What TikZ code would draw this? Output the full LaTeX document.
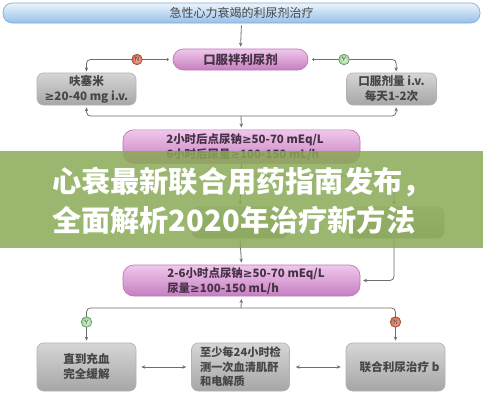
\documentclass[tikz,border=0pt]{standalone}
\usepackage{fontspec}
\newfontfamily\cjk{Noto Sans CJK SC}
\newfontfamily\djv{DejaVu Sans}
\newcommand\gesign{{\djv ≥}}
\usetikzlibrary{arrows.meta,calc}
\definecolor{tbtop}{RGB}{236,244,252}
\definecolor{tbbot}{RGB}{150,192,232}
\definecolor{tbline}{RGB}{130,172,214}
\definecolor{pktop}{RGB}{240,200,236}
\definecolor{pkbot}{RGB}{198,126,192}
\definecolor{pkline}{RGB}{186,120,178}
\definecolor{gytop}{RGB}{214,214,214}
\definecolor{gybot}{RGB}{166,166,166}
\definecolor{gyline}{RGB}{178,178,178}
\definecolor{txtgray}{RGB}{70,70,70}
\definecolor{pktext}{RGB}{70,50,70}
\definecolor{lncol}{RGB}{110,110,110}
\definecolor{nin}{RGB}{248,196,176}
\definecolor{nout}{RGB}{204,92,64}
\definecolor{yin}{RGB}{236,250,236}
\definecolor{yout}{RGB}{140,206,140}
\definecolor{banner}{RGB}{137,170,84}
\begin{document}
\begin{tikzpicture}[x=0.75pt,y=-0.75pt,
  titlebar/.style={draw=tbline, line width=0.5pt, top color=tbtop, bottom color=tbbot,
    rounded corners=7pt, minimum width=357.75pt, minimum height=15pt, inner sep=0pt,
    font=\cjk\fontsize{9}{11}\selectfont, text=txtgray},
  pinkbox/.style={draw=pkline, line width=0.5pt, top color=pktop, bottom color=pkbot,
    inner sep=0pt, text=pktext, align=left,
    font=\cjk\bfseries\fontsize{9}{11.2}\selectfont},
  pinktext/.style={inner sep=0pt, text=pktext, align=left, anchor=west,
    font=\cjk\bfseries\fontsize{8.6}{11.25}\selectfont},
  graybox/.style={draw=gyline, line width=0.5pt, top color=gytop, bottom color=gybot,
    rounded corners=5pt, inner sep=0pt, text=txtgray, align=center,
    font=\cjk\bfseries\fontsize{8.7}{11.2}\selectfont},
  conn/.style={draw=lncol, line width=0.6pt, rounded corners=3pt},
  tip/.style={-{Stealth[length=3pt,width=2.6pt]}},
  dtip/.style={{Stealth[length=3pt,width=2.6pt]}-{Stealth[length=3pt,width=2.6pt]}},
  ncirc/.style={circle, draw=nout!80!black, line width=0.4pt, inner color=nin, outer color=nout,
    minimum size=8pt, inner sep=0pt, text=black!80, font=\sffamily\fontsize{4.5}{5}\selectfont},
  ycirc/.style={circle, draw=yout!70!black, line width=0.4pt, inner color=yin, outer color=yout,
    minimum size=8pt, inner sep=0pt, text=black!80, font=\sffamily\fontsize{4.5}{5}\selectfont}
]
\useasboundingbox (0,0) rectangle (483,400);
\fill[white] (0,0) rectangle (483,400);

% nodes
\node[titlebar] (title) at (241.5,13) {急性心力衰竭的利尿剂治疗};
\node[pinkbox, rounded corners=7.8pt, minimum width=101.25pt, minimum height=15.75pt,
  font=\cjk\bfseries\fontsize{9.3}{11}\selectfont] (p1) at (240.5,59.5) {口服袢利尿剂};
\node[graybox, minimum width=74.25pt, minimum height=24pt] (l1) at (86.5,89) {呋塞米\\\gesign20-40 mg i.v.};
\node[graybox, minimum width=67.5pt, minimum height=24pt] (r1) at (391.5,89) {口服剂量 i.v.\\每天1-2次};
\node[pinkbox, rounded corners=8pt, minimum width=177.75pt, minimum height=25pt]
  (p2) at (241.5,146.5) {};
\node[pinktext] (p2t) at (166,147.5) {2小时后点尿钠\gesign50-70 mEq/L\\6小时后尿量\gesign100-150 mL/h};
\node[graybox, minimum width=72pt, minimum height=23.25pt] (hm) at (240,222.5) {};
\node[graybox, minimum width=72pt, minimum height=23.25pt] (hr) at (396,222.5) {};
\node[pinkbox, rounded corners=8pt, minimum width=177.75pt, minimum height=23.25pt]
  (p3) at (241.5,280.5) {};
\node[pinktext] (p3t) at (167,281) {2-6小时点尿钠\gesign50-70 mEq/L\\尿量\gesign100-150 mL/h};
\node[graybox, minimum width=74.25pt, minimum height=36pt] (bl) at (86.5,367) {直到充血\\完全缓解};
\node[graybox, minimum width=73.5pt, minimum height=36pt, align=left,
  font=\cjk\bfseries\fontsize{8.4}{10.9}\selectfont] (bm) at (240.5,367) {至少每24小时检\\测一次血清肌酐\\和电解质};
\node[graybox, minimum width=74.25pt, minimum height=36pt] (br) at (395.5,367) {\hspace{6pt}联合利尿治疗 b};

% connectors top
\draw[conn,tip,shorten <=1.5pt,shorten >=1.5pt] (title.south) -- (p1.north);
\draw[conn,{Circle[length=1.8pt]}-{Stealth[length=3pt,width=2.6pt]},shorten <=3pt,shorten >=1pt]
  (p1.west) -| (l1.north);
\draw[conn,{Circle[length=1.8pt]}-{Stealth[length=3pt,width=2.6pt]},shorten <=3pt,shorten >=1pt]
  (p1.east) -| ([xshift=3.5pt]r1.north);
\node[ncirc] (n1) at (137,59.5) {N};
\node[ycirc] (y1) at (344,59.5) {Y};

\coordinate (bj) at (241,116);
\draw[conn,dtip,shorten <=1.5pt,shorten >=1.5pt] (l1.south) |- (bj) -| ([xshift=3.5pt]r1.south);
\draw[conn,tip,shorten >=1.5pt] (bj) -- (p2.north);

% hidden middle part
\coordinate (hj) at (241,176);
\draw[conn] (p2.south) -- (hj);
\draw[conn,tip,shorten >=1.5pt] (hj) -- (hm.north);
\draw[conn,tip,shorten >=1.5pt] (hj) -| ([xshift=-1.5pt]hr.north);
\draw[conn,tip,shorten >=2pt] ([xshift=-1.5pt]hr.south) |- (p3.east);
\draw[conn,tip,shorten >=1.5pt] (hm.south) -- (p3.north);

% bottom part
\coordinate (bj2) at (241,308);
\draw[conn,tip,shorten >=2pt] (bj2) -- (p3.south);
\draw[conn,tip,shorten >=1.5pt] (bj2) -| (bl.north);
\draw[conn,tip,shorten >=1.5pt] (bj2) -| (br.north);
\node[ycirc] (y2) at (86.5,322) {Y};
\node[ncirc] (n2) at (395.5,322) {N};
\draw[conn,dtip,shorten <=3.75pt,shorten >=3.75pt] (bl.east) -- (bm.west);
\draw[conn,dtip,shorten <=4.5pt,shorten >=3.75pt] (bm.east) -- (br.west);

% banner overlay
\fill[banner, opacity=0.84] (0,151) rectangle (483,248);
\node[text=white, font=\cjk\bfseries\fontsize{21.9}{29.5}\selectfont, align=left, inner sep=0pt]
  (bt) at (242,201) {心衰最新联合用药指南发布，\\全面解析2020年治疗新方法};
\end{tikzpicture}
\end{document}
